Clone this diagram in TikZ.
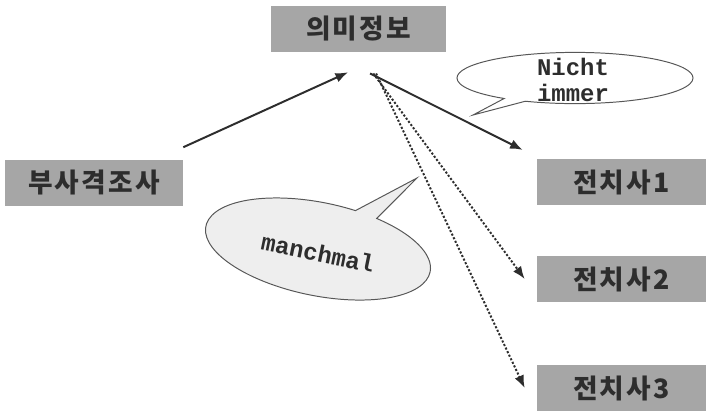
\documentclass[tikz,border=0pt]{standalone}
\usepackage{fontspec}
\newfontfamily\kor[LetterSpace=8]{Noto Sans CJK KR}
\newfontfamily\mono{Liberation Mono}
\usetikzlibrary{arrows.meta,shapes.callouts}
\definecolor{boxgray}{RGB}{166,166,166}
\definecolor{ink}{RGB}{45,45,45}
\definecolor{bubblegray}{RGB}{238,238,238}

\begin{document}
\begin{tikzpicture}[x=0.025cm, y=-0.025cm,
  box/.style={rectangle, fill=boxgray, minimum width=4.225cm, minimum height=1.15cm, inner sep=0pt, text=ink, font=\kor\bfseries\fontsize{19}{24}\selectfont},
  arr/.style={-{Latex[length=9pt,width=7pt]}, line width=1.4pt, draw=ink},
  dotarr/.style={arr, dash pattern=on 1.5pt off 1.3pt},
  bubble/.style={ellipse callout, draw=ink!80, line width=0.7pt, inner sep=0pt, callout pointer arc=12},
  say/.style={font=\mono\bfseries\fontsize{17}{18}\selectfont, text=ink, align=center}]
\useasboundingbox (0,0) rectangle (709,410);

% Kasten
\node[box, minimum width=4.375cm] (info) at (358.5,29) {의미정보};
\node[box, minimum width=4.45cm] (adv) at (94,182.5) {부사격조사};
\node[box] (p1) at (621.5,182) {전치사1};
\node[box] (p2) at (621.5,279) {전치사2};
\node[box] (p3) at (621.5,388) {전치사3};

% Sprechblasen
\node[bubble, fill=white, minimum width=5.9cm, minimum height=1.28cm, callout absolute pointer={(473,115)}] (nicht) at (575,78) {};
\node[say] (nichttext) at (573,80) {Nicht\\immer};
\node[bubble, fill=bubblegray, rotate=-11.5, minimum width=5.72cm, minimum height=2.33cm, callout absolute pointer={(417,178)}] (manch) at (318,249) {};
\node[say, rotate=-11.5] (manchtext) at (318,253) {manchmal};

% Pfeile
\coordinate (hub) at ([xshift=0.29cm,yshift=-0.53cm]info.south);
\draw[arr] ([yshift=0.3cm]adv.north east) -- ([xshift=-0.26cm,yshift=-0.5cm]info.south);
\draw[arr] (hub) -- ([xshift=-0.35cm,yshift=0.22cm]p1.north west);
\draw[dotarr] ([xshift=0.08cm]hub) -- ([xshift=-0.3cm]p2.west);
\draw[dotarr] ([xshift=0.15cm]hub) -- ([xshift=-0.3cm]p3.west);
\end{tikzpicture}
\end{document}
